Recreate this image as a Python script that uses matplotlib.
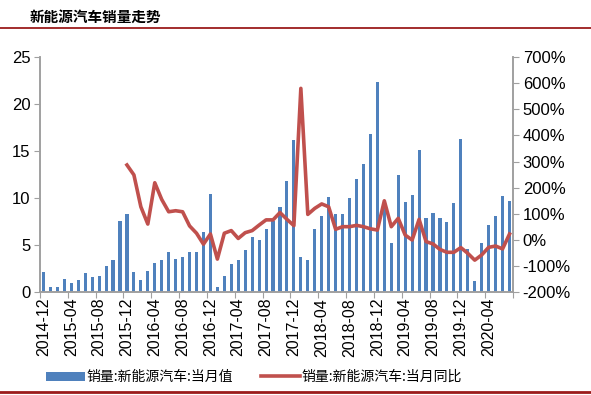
import matplotlib
matplotlib.use("Agg")
import matplotlib.pyplot as plt
import numpy as np
from matplotlib.lines import Line2D
from matplotlib.patches import Patch

months = [f"{y}-{m:02d}" for y, m in
          [(2014, 12)] + [(y, m) for y in range(2015, 2020) for m in range(1, 13)] +
          [(2020, m) for m in range(1, 8)]]

sales = [2.15, 0.6, 0.6, 1.37, 0.95, 1.34, 2.04, 1.62, 1.73, 2.75, 3.38, 7.54,
         8.35, 2.11, 1.34, 2.22, 3.1, 3.42, 4.33, 3.52, 3.73, 4.33, 4.33, 6.44,
         10.42, 0.53, 1.69, 3.03, 3.38, 4.47, 5.85, 5.56, 6.73, 7.54, 9.02, 11.83,
         16.2, 3.8, 3.38, 6.69, 8.13, 10.1, 8.31, 8.31, 10.04, 12.08, 13.66, 16.83,
         22.36, 9.6, 5.21, 12.46, 9.61, 10.35, 15.1, 7.92, 8.45, 7.92, 7.43, 9.47,
         16.27, 4.58, 1.23, 5.21, 7.11, 8.1, 10.28, 9.72]

yoy = [None] * 12 + [287, 249, 127, 61, 219, 155, 108, 112, 108, 54, 26, -16,
                     23, -73, 26, 36, 6, 28, 36, 57, 77, 77, 105, 79,
                     55, 580, 98, 121, 138, 127, 41, 51, 51, 56, 51, 43,
                     38, 150, 51, 83, 19, 0, 79, -6, -15, -36, -47, -47,
                     -29, -51, -77, -57, -28, -23, -34, 23]

title = "新能源汽车销量走势"
bar_label = "销量:新能源汽车:当月值"
line_label = "销量:新能源汽车:当月同比"

plt.rcParams['font.family'] = ['Liberation Sans', 'Noto Sans CJK SC', 'DejaVu Sans']
cjk = ['Noto Sans CJK SC', 'DejaVu Sans']

fig = plt.figure(figsize=(5.91, 3.95), dpi=100)
ax = fig.add_axes([40/591, 1-292.3/395, 473/591, 235.3/395])
ax2 = ax.twinx()

x = np.arange(len(months))
bar_color = '#4F81BD'
line_color = '#C0504D'
ax.bar(x, sales, width=0.45, color=bar_color, zorder=2)
yv = np.array([np.nan if v is None else v for v in yoy], dtype=float)
ax2.plot(x, yv, color=line_color, lw=2.6, solid_joinstyle='round', zorder=3)

ax.set_xlim(-0.5, len(months) - 0.5)
ax.set_ylim(0, 25)
ax.set_yticks(np.arange(0, 26, 5))
ax2.set_ylim(-200, 700)
ax2.set_yticks(np.arange(-200, 701, 100))
ax2.set_yticklabels([f"{v}%" for v in range(-200, 701, 100)])

ax.set_xticks(np.arange(-0.5, len(months), 4))
ax.set_xticklabels([])
ax.set_xticks(np.arange(0, len(months), 4), minor=True)
ax.set_xticklabels([months[i] for i in range(0, len(months), 4)], minor=True, rotation=90, fontsize=11.5)
ax.tick_params(axis='x', which='minor', length=0, pad=4)
ax.tick_params(axis='x', which='major', length=4, color='#A0A0A0', direction='out')

spine_c = '#A0A0A0'
for a in (ax, ax2):
    a.spines['top'].set_visible(False)
    for s in ('left', 'right', 'bottom'):
        a.spines[s].set_color(spine_c)
        a.spines[s].set_linewidth(1.2)
ax.tick_params(axis='y', length=4, color=spine_c, labelsize=12, pad=3)
ax2.tick_params(axis='y', length=4, color=spine_c, labelsize=12, pad=3)
ax2.set_zorder(ax.get_zorder() + 1)
ax2.patch.set_visible(False)

fig.text(30/591, 1-17/395, title, fontfamily=cjk, fontsize=10.5, fontweight='bold', va='center', ha='left')
fig.add_artist(Line2D([0, 1], [1-28/395, 1-28/395], color='#9B1B1B', lw=1.3, transform=fig.transFigure))
fig.add_artist(Line2D([0, 1], [1-392/395, 1-392/395], color='#9B1B1B', lw=2.0, transform=fig.transFigure))

handles = [Patch(facecolor=bar_color, edgecolor='none'), Line2D([0], [0], color=line_color, lw=2.6)]
leg = fig.legend(handles, [bar_label, line_label], loc='center', bbox_to_anchor=(254/591, 1-377/395),
                 ncol=2, frameon=False, prop={'family': cjk, 'size': 10},
                 handlelength=2.8, handleheight=0.6, handletextpad=0.15, columnspacing=2.0)

fig.savefig('out.png', dpi=100)
